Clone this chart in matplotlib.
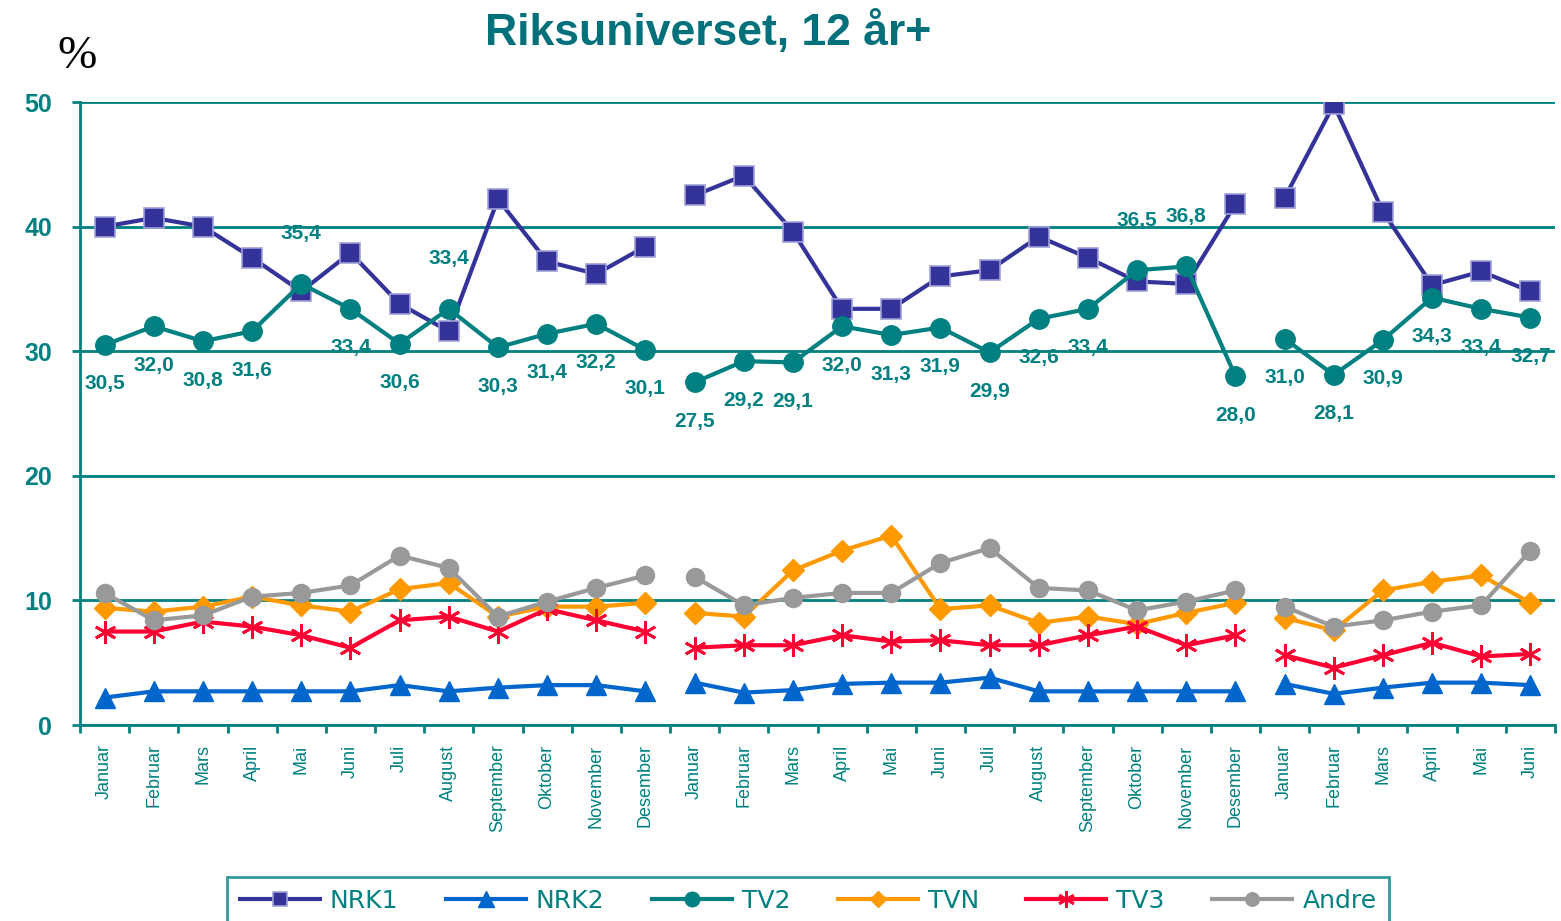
import matplotlib.pyplot as plt

months = ['Januar', 'Februar', 'Mars', 'April', 'Mai', 'Juni', 'Juli', 'August',
          'September', 'Oktober', 'November', 'Desember']
labels = months + months + months[:6]

nrk1 = [40.0, 40.7, 40.0, 37.5, 34.8, 37.9, 33.8, 31.6, 42.2, 37.2, 36.2, 38.4,
        42.5, 44.1, 39.6, 33.4, 33.4, 36.0, 36.5, 39.2, 37.5, 35.6, 35.4, 41.8,
        42.3, 49.8, 41.2, 35.3, 36.4, 34.8]
nrk2 = [2.2, 2.7, 2.7, 2.7, 2.7, 2.7, 3.2, 2.7, 3.0, 3.2, 3.2, 2.7,
        3.4, 2.6, 2.8, 3.3, 3.4, 3.4, 3.8, 2.7, 2.7, 2.7, 2.7, 2.7,
        3.3, 2.5, 3.0, 3.4, 3.4, 3.2]
tv2 = [30.5, 32.0, 30.8, 31.6, 35.4, 33.4, 30.6, 33.4, 30.3, 31.4, 32.2, 30.1,
       27.5, 29.2, 29.1, 32.0, 31.3, 31.9, 29.9, 32.6, 33.4, 36.5, 36.8, 28.0,
       31.0, 28.1, 30.9, 34.3, 33.4, 32.7]
tvn = [9.4, 9.1, 9.5, 10.3, 9.6, 9.1, 10.9, 11.4, 8.7, 9.5, 9.5, 9.8,
       9.0, 8.7, 12.4, 14.0, 15.2, 9.3, 9.6, 8.2, 8.7, 8.1, 9.0, 9.8,
       8.6, 7.6, 10.8, 11.5, 12.0, 9.8]
tv3 = [7.5, 7.5, 8.3, 7.9, 7.2, 6.2, 8.4, 8.7, 7.5, 9.3, 8.4, 7.5,
       6.2, 6.4, 6.4, 7.2, 6.7, 6.8, 6.4, 6.4, 7.2, 7.9, 6.4, 7.2,
       5.6, 4.6, 5.6, 6.6, 5.5, 5.7]
andre = [10.6, 8.4, 8.8, 10.3, 10.6, 11.2, 13.6, 12.6, 8.7, 9.9, 11.0, 12.0,
         11.9, 9.6, 10.2, 10.6, 10.6, 13.0, 14.2, 11.0, 10.8, 9.2, 9.9, 10.8,
         9.5, 7.9, 8.4, 9.1, 9.6, 14.0]
# which TV2 labels sit above the point
tv2_above = [4, 7, 21, 22]

teal = '#008080'
segments = [(0, 12), (12, 24), (24, 30)]
x = list(range(len(labels)))

fig = plt.figure(figsize=(15.61, 9.21), dpi=100)
ax = fig.add_axes([80 / 1561, 196 / 921, 1475 / 1561, 623 / 921])

styles = [
    ('NRK1', nrk1, dict(color='#333399', marker='s', ms=14, mec='#a0a0d8', mew=1.2)),
    ('NRK2', nrk2, dict(color='#0066CC', marker='^', ms=15)),
    ('TV2', tv2, dict(color=teal, marker='o', ms=14)),
    ('TVN', tvn, dict(color='#FF9900', marker='D', ms=11)),
    ('TV3', tv3, dict(color='#FF0033', marker=(6, 2, 0), ms=16, mew=2)),
    ('Andre', andre, dict(color='#999999', marker='o', ms=13)),
]

handles = []
for name, vals, st in styles:
    for k, (a, b) in enumerate(segments):
        ln, = ax.plot(x[a:b], vals[a:b], lw=3, label=name if k == 0 else None, **st)
        if k == 0:
            handles.append(ln)

for i, v in enumerate(tv2):
    dy = 50 if i in tv2_above else -39
    ax.annotate(f'{v:.1f}'.replace('.', ','), (i, v), xytext=(0, dy),
                textcoords='offset pixels', ha='center', va='center',
                color=teal, fontsize=15, fontweight='bold',
                family=['Liberation Sans', 'DejaVu Sans'])

ax.set_xlim(-0.5, len(labels) - 0.5)
ax.set_ylim(0, 50)
ax.set_yticks([0, 10, 20, 30, 40, 50])
ax.set_xticks(x)
ax.set_xticklabels(labels, rotation=90, color=teal, fontsize=13,
                   family=['Liberation Sans', 'DejaVu Sans'])
ax.set_xticks([i - 0.5 for i in range(len(labels) + 1)], minor=True)
ax.tick_params(axis='x', which='major', length=0, pad=14)
ax.tick_params(axis='x', which='minor', length=6, width=2, color=teal, direction='out')
ax.tick_params(axis='y', length=6, width=2, color=teal, labelcolor=teal,
               labelsize=18, pad=14)
for t in ax.get_yticklabels():
    t.set_fontweight('bold')
    t.set_family(['Liberation Sans', 'DejaVu Sans'])

ax.grid(axis='y', color=teal, lw=2)
ax.set_axisbelow(True)
for s in ['top', 'right']:
    ax.spines[s].set_visible(False)
for s in ['left', 'bottom']:
    ax.spines[s].set_color(teal)
    ax.spines[s].set_linewidth(2)

fig.text(708 / 1561, 1 - 32 / 921, 'Riksuniverset, 12 år+', ha='center', va='center',
         color='#00707A', fontsize=32, fontweight='bold',
         family=['Liberation Sans', 'DejaVu Sans'])
fig.text(77 / 1561, 1 - 57 / 921, '%', ha='center', va='center', color='black',
         fontsize=34, family=['Liberation Serif', 'DejaVu Serif'])

leg = fig.legend(handles=handles, loc='upper center', ncol=6,
                 bbox_to_anchor=(808 / 1561, 1 - 864 / 921),
                 frameon=True, fancybox=False, fontsize=18, handlelength=3.2,
                 markerscale=0.75, columnspacing=1.9, handletextpad=0.4, borderpad=0.5)
leg.get_frame().set_edgecolor(teal)
leg.get_frame().set_linewidth(2)
for t in leg.get_texts():
    t.set_color(teal)

fig.savefig('out.png', dpi=100)
